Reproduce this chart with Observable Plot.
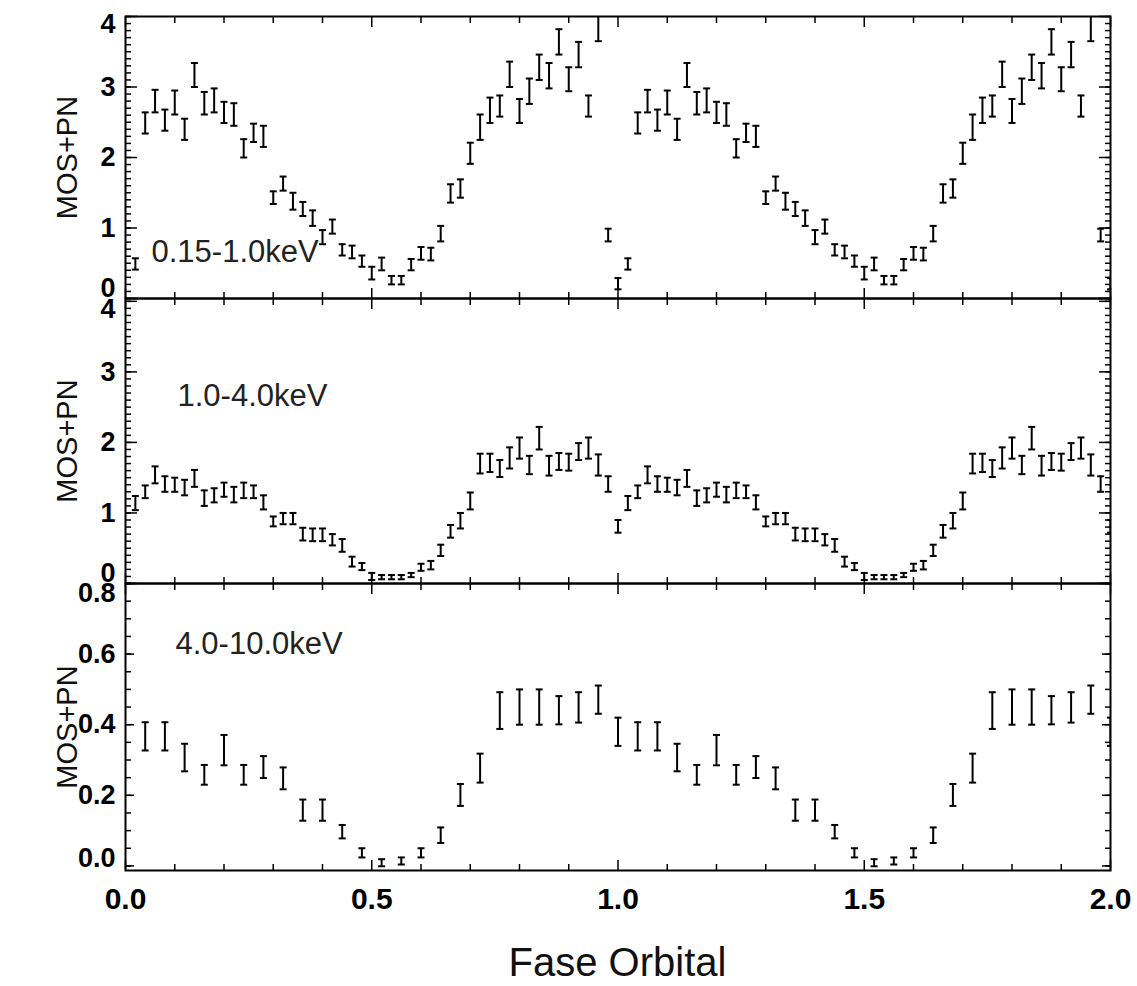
<!DOCTYPE html>
<html>
<head>
<meta charset="utf-8">
<script src="https://cdn.jsdelivr.net/npm/d3@7"></script>
<script src="https://cdn.jsdelivr.net/npm/@observablehq/plot@0.6"></script>
<style>
  body { margin: 0; background: #fff; }
  #chart { position: relative; width: 1137px; height: 986px; font-family: "Liberation Sans", Arial, Helvetica, sans-serif; }
  #chart svg { position: absolute; left: 0; overflow: visible; }
  #xtitle { position: absolute; left: 125px; width: 985px; top: 942px; text-align: center;
            font-size: 40px; line-height: 40px; color: #111; }
</style>
</head>
<body>
<div id="chart"><div id="xtitle">Fase Orbital</div></div>
<script>
// ---- Data (one orbital cycle; the figure shows it twice, phase 0–2) ----
const phaseSoft = [0.02,0.04,0.06,0.08,0.10,0.12,0.14,0.16,0.18,0.20,0.22,0.24,0.26,0.28,0.30,0.32,0.34,0.36,0.38,0.40,
                   0.42,0.44,0.46,0.48,0.50,0.52,0.54,0.56,0.58,0.60,0.62,0.64,0.66,0.68,0.70,0.72,0.74,0.76,0.78,0.80,
                   0.82,0.84,0.86,0.88,0.90,0.92,0.94,0.96,0.98,1.00];
const softRate = [0.49,2.49,2.80,2.53,2.78,2.40,3.17,2.77,2.81,2.64,2.61,2.13,2.35,2.30,1.43,1.63,1.38,1.27,1.14,0.87,
                  1.02,0.69,0.66,0.53,0.36,0.49,0.26,0.26,0.48,0.64,0.63,0.92,1.49,1.56,2.06,2.43,2.67,2.73,3.18,2.66,
                  2.94,3.28,3.16,3.64,3.11,3.46,2.73,3.84,0.90,0.21];
const softErr  = [0.08,0.15,0.16,0.15,0.17,0.15,0.17,0.16,0.17,0.15,0.16,0.13,0.13,0.15,0.09,0.10,0.12,0.10,0.11,0.10,
                  0.10,0.08,0.09,0.08,0.09,0.09,0.06,0.06,0.08,0.09,0.09,0.11,0.13,0.13,0.15,0.18,0.18,0.15,0.18,0.17,
                  0.18,0.18,0.18,0.18,0.17,0.18,0.15,0.19,0.09,0.08];

const phaseMed = phaseSoft;
const medRate = [1.14,1.30,1.54,1.41,1.40,1.36,1.49,1.21,1.25,1.33,1.26,1.32,1.30,1.15,0.88,0.92,0.92,0.70,0.69,0.69,
                 0.62,0.54,0.31,0.24,0.10,0.09,0.09,0.09,0.12,0.23,0.26,0.47,0.74,0.89,1.17,1.70,1.71,1.63,1.78,1.92,
                 1.68,2.06,1.67,1.73,1.72,1.87,1.92,1.68,1.41,0.81];
const medErr  = [0.10,0.09,0.12,0.11,0.10,0.11,0.12,0.11,0.10,0.10,0.11,0.11,0.09,0.10,0.07,0.08,0.08,0.09,0.09,0.09,
                 0.08,0.09,0.07,0.05,0.05,0.03,0.03,0.03,0.03,0.05,0.06,0.08,0.09,0.11,0.12,0.14,0.13,0.12,0.15,0.15,
                 0.13,0.16,0.14,0.12,0.12,0.12,0.15,0.15,0.11,0.09];

const phaseHard = [0.04,0.08,0.12,0.16,0.20,0.24,0.28,0.32,0.36,0.40,0.44,0.48,0.52,0.56,0.60,0.64,0.68,0.72,0.76,0.80,
                   0.84,0.88,0.92,0.96,1.00];
const hardRate = [0.367,0.367,0.307,0.258,0.328,0.258,0.280,0.248,0.158,0.158,0.097,0.037,0.009,0.014,0.037,0.087,0.201,0.277,0.440,0.450,
                  0.450,0.441,0.449,0.471,0.380];
const hardErr  = [0.040,0.040,0.039,0.028,0.043,0.028,0.031,0.031,0.030,0.030,0.019,0.013,0.010,0.010,0.013,0.022,0.031,0.041,0.052,0.050,
                  0.050,0.040,0.043,0.040,0.040];

const bandLabels = ["0.15-1.0keV", "1.0-4.0keV", "4.0-10.0keV"];
const yTitle = "MOS+PN";
const xTickLabels = [0, 0.5, 1.0, 1.5, 2.0];
const yTicksCounts = [0, 1, 2, 3, 4];
const yTicksHard = [0, 0.2, 0.4, 0.6, 0.8];

// table built from the arrays: the folded cycle drawn twice
function table(phase, rate, err) {
  return [0, 1].flatMap(c => phase.map((p, i) => ({x: p + c, v: rate[i], e: err[i]})));
}

const cap = {draw(ctx, size) { const w = Math.sqrt(size / Math.PI); ctx.moveTo(-w, 0); ctx.lineTo(w, 0); }};
const FONT = "Liberation Sans, Arial, Helvetica, sans-serif";
const xMinor = d3.range(0, 2.0001, 0.1).filter(v => Math.abs(v * 2 - Math.round(v * 2)) > 1e-6);

function panel({data, yDomain, top, innerHeight, marginTop = 0, marginBottom = 0,
                yMajor, yMinor, majorLen, fmt, loDy, hiDy, label, labelDx, labelDy, showX}) {
  const mid = yMajor.slice(1, -1), lo = [yMajor[0]], hi = [yMajor[yMajor.length - 1]];
  const yText = {anchor: "left", tickSize: 0, tickPadding: 10, fontSize: 27, fontWeight: "bold",
                 tickFormat: fmt, label: null, fill: "black"};
  const marks = [
    Plot.ruleX(data, {x: "x", y1: d => d.v - d.e, y2: d => d.v + d.e, stroke: "black", strokeWidth: 2, clip: true}),
    Plot.dot(data, {x: "x", y: d => d.v - d.e, symbol: cap, r: 3.5, stroke: "black", fill: "none", strokeWidth: 2, clip: true}),
    Plot.dot(data, {x: "x", y: d => d.v + d.e, symbol: cap, r: 3.5, stroke: "black", fill: "none", strokeWidth: 2, clip: true}),
    // inward ticks on all four sides
    Plot.axisX({ticks: xTickLabels, anchor: "bottom", tickSize: -10, fill: "none", label: null, strokeWidth: 1.5}),
    Plot.axisX({ticks: xMinor, anchor: "bottom", tickSize: -6, fill: "none", label: null, strokeWidth: 1.5}),
    Plot.axisX({ticks: xTickLabels, anchor: "top", tickSize: -10, fill: "none", label: null, strokeWidth: 1.5}),
    Plot.axisX({ticks: xMinor, anchor: "top", tickSize: -6, fill: "none", label: null, strokeWidth: 1.5}),
    Plot.axisY({ticks: yMajor, anchor: "left", tickSize: -majorLen, fill: "none", label: null, strokeWidth: 1.5}),
    Plot.axisY({ticks: yMinor, anchor: "left", tickSize: -6, fill: "none", label: null, strokeWidth: 1.5}),
    Plot.axisY({ticks: yMajor, anchor: "right", tickSize: -majorLen, fill: "none", label: null, strokeWidth: 1.5}),
    Plot.axisY({ticks: yMinor, anchor: "right", tickSize: -6, fill: "none", label: null, strokeWidth: 1.5}),
    Plot.axisY({...yText, ticks: mid}),
    Plot.axisY({...yText, ticks: lo, dy: loDy}),
    Plot.axisY({...yText, ticks: hi, dy: hiDy}),
    Plot.frame({stroke: "black", strokeWidth: 2}),
    Plot.text([label], {text: d => d, frameAnchor: "top-left", dx: labelDx, dy: labelDy, textAnchor: "start",
                        lineAnchor: "middle", fontSize: 31, fill: "#222"}),
    Plot.text([yTitle], {text: d => d, frameAnchor: "left", rotate: -90, dx: -58, dy: 0,
                         textAnchor: "middle", lineAnchor: "middle", fontSize: 29, fill: "#111"})
  ];
  if (showX) {
    marks.push(Plot.axisX({ticks: xTickLabels, anchor: "bottom", tickSize: 0, tickPadding: 17, fontSize: 30,
                           fontWeight: "bold", tickFormat: d3.format(".1f"), label: null, fill: "black"}));
  }
  const svg = Plot.plot({
    width: 1137, height: marginTop + innerHeight + marginBottom,
    marginLeft: 125, marginRight: 27, marginTop, marginBottom,
    x: {domain: [0, 2]},
    y: {domain: yDomain},
    style: {fontFamily: FONT, overflow: "visible", background: "transparent"},
    marks
  });
  svg.style.top = top + "px";
  document.getElementById("chart").appendChild(svg);
}

const minorCounts = d3.range(0, 4.0001, 0.1);
panel({data: table(phaseSoft, softRate, softErr), yDomain: [0, 4], top: 0, marginTop: 16, innerHeight: 282,
       yMajor: yTicksCounts, yMinor: minorCounts, majorLen: 12, fmt: d3.format("d"), loDy: -10, hiDy: 8,
       label: bandLabels[0], labelDx: 26, labelDy: 236, showX: false});
panel({data: table(phaseMed, medRate, medErr), yDomain: [0, 4.04], top: 298, innerHeight: 285,
       yMajor: yTicksCounts, yMinor: minorCounts, majorLen: 12, fmt: d3.format("d"), loDy: -10, hiDy: 8,
       label: bandLabels[1], labelDx: 52, labelDy: 98, showX: false});
panel({data: table(phaseHard, hardRate, hardErr), yDomain: [-0.013, 0.8], top: 583, innerHeight: 287, marginBottom: 60,
       yMajor: yTicksHard, yMinor: d3.range(0, 0.8001, 0.05), majorLen: 9, fmt: d3.format(".1f"), loDy: -8, hiDy: 10,
       label: bandLabels[2], labelDx: 50, labelDy: 61, showX: true});
</script>
</body>
</html>
